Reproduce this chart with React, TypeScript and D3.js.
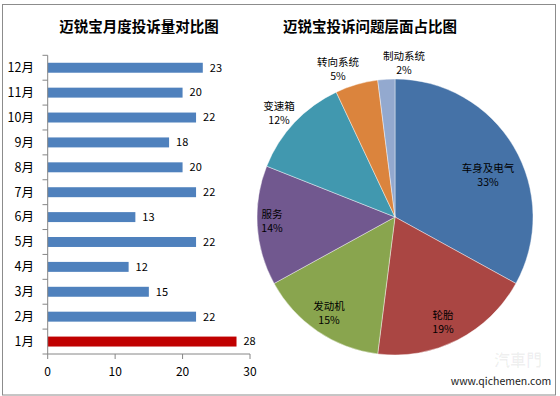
import React from "react";
import * as d3 from "d3";

const months = ["1月", "2月", "3月", "4月", "5月", "6月", "7月", "8月", "9月", "10月", "11月", "12月"];
const complaints = [28, 22, 15, 12, 22, 13, 22, 20, 18, 22, 20, 23];
const xTicks = [0, 10, 20, 30];

const categories = ["车身及电气", "轮胎", "发动机", "服务", "变速箱", "转向系统", "制动系统"];
const shares = [33, 19, 15, 14, 12, 5, 2];
const pieColors = ["#4572A7", "#AA4643", "#89A54E", "#71588F", "#4198AF", "#DB843D", "#93A9CF"];

const font = "'Noto Sans CJK SC', 'Noto Sans', sans-serif";

export default function App() {
  const W = 560, H = 396;
  const x = d3.scaleLinear().domain([0, 30]).range([47.7, 250]);
  const y = d3.scaleBand<string>().domain([...months].reverse()).range([55.3, 354]).paddingInner(0.6).paddingOuter(0.3);
  const band = d3.scaleBand<string>().domain([...months].reverse()).range([55.3, 354]);

  const cx = 395, cy = 217, r = 138;
  const pie = d3.pie<number>().sort(null).value((d) => d);
  const arcs = pie(shares);
  const arc = d3.arc<d3.PieArcDatum<number>>().innerRadius(0).outerRadius(r);

  const labelPos: [number, number][] = [
    [488, 178], [443, 325], [329, 316], [272, 224], [279, 116], [338, 72], [404, 66],
  ];

  return (
    <svg width={W} height={H} style={{ position: "absolute", left: 0, top: 0 }} fontFamily={font}>
      <rect x={0} y={0} width={W} height={H} fill="#fff" />
      <rect x={2.5} y={4.5} width={553} height={390.5} fill="none" stroke="#8c8c8c" strokeWidth={1} />

      <text x={139} y={32} textAnchor="middle" fontSize={14.5} fontWeight="bold" fill="#000">迈锐宝月度投诉量对比图</text>
      <text x={370} y={32} textAnchor="middle" fontSize={14.5} fontWeight="bold" fill="#000">迈锐宝投诉问题层面占比图</text>

      {/* bar chart */}
      {months.map((m, i) => (
        <g key={m}>
          <rect x={x(0)} y={y(m)!} width={x(complaints[i]) - x(0)} height={y.bandwidth()} fill={i === 0 ? "#C00000" : "#4F81BD"} />
          <text x={x(complaints[i]) + 7} y={y(m)! + y.bandwidth() / 2} dy="0.35em" fontSize={11} fill="#000">{complaints[i]}</text>
          <text x={34} y={band(m)! + band.bandwidth() / 2} dy="0.35em" textAnchor="end" fontSize={12.5} fill="#000">{m}</text>
        </g>
      ))}
      {d3.range(13).map((k) => {
        const yy = 55.3 + k * band.bandwidth();
        return <line key={k} x1={42.5} x2={x(0)} y1={yy} y2={yy} stroke="#868686" />;
      })}
      <line x1={x(0)} x2={x(0)} y1={55.3} y2={354} stroke="#868686" />
      <line x1={x(0)} x2={x(30)} y1={354} y2={354} stroke="#868686" />
      {xTicks.map((t) => (
        <g key={t}>
          <line x1={x(t)} x2={x(t)} y1={354} y2={359} stroke="#868686" />
          <text x={x(t)} y={372} dy="0.35em" textAnchor="middle" fontSize={12} fill="#000">{t}</text>
        </g>
      ))}

      {/* pie */}
      <g transform={`translate(${cx},${cy})`}>
        {arcs.map((a, i) => (
          <path key={i} d={arc(a)!} fill={pieColors[i]} stroke="#fff" strokeWidth={0.6} strokeOpacity={0.7} />
        ))}
      </g>
      {categories.map((c, i) => (
        <text key={c} x={labelPos[i][0]} y={labelPos[i][1] - 6} textAnchor="middle" fontSize={10.5} fill="#000">
          <tspan x={labelPos[i][0]}>{c}</tspan>
          <tspan x={labelPos[i][0]} dy={14}>{shares[i]}%</tspan>
        </text>
      ))}

      {/* watermark */}
      <text x={518} y={366} textAnchor="middle" fontSize={16} fontWeight="bold" fill="#000" fillOpacity={0.06}>汽車門</text>
      <text x={501} y={385} textAnchor="middle" fontSize={10.5} fill="#222">www.qichemen.com</text>
    </svg>
  );
}
